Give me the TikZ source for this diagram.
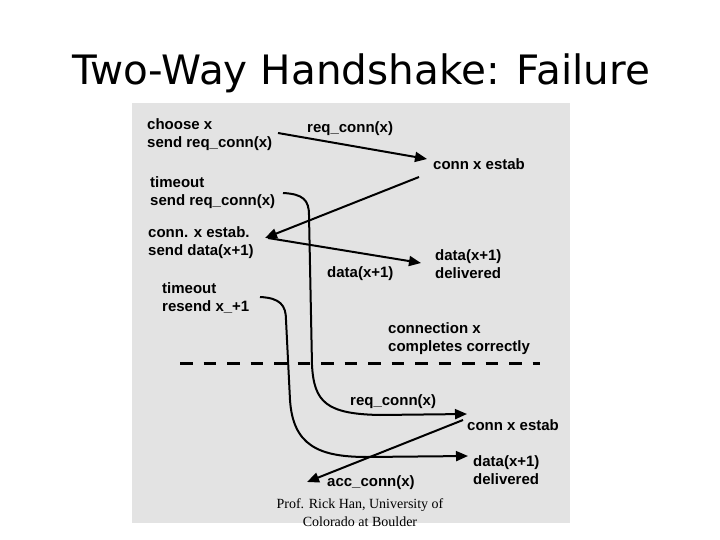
\documentclass[tikz,border=0pt]{standalone}
\usepackage{fontspec}
\setmainfont{Liberation Sans}
\newfontfamily\titlefont{DejaVu Sans}
\newfontfamily\creditfont{Liberation Serif}
\usetikzlibrary{arrows.meta}
\definecolor{ink}{HTML}{000000}
\definecolor{panel}{HTML}{E3E3E3}
\tikzset{
  lbl/.style={anchor=base west,inner sep=0pt,align=left,text=ink,font=\fontsize{15}{18}\selectfont\bfseries},
  msg/.style={draw=ink,line width=2pt,-{Triangle[length=12pt,width=10pt]}},
  cutline/.style={draw=ink,line width=3pt,dash pattern=on 12.5pt off 11pt}
}

\begin{document}
\begin{tikzpicture}[x=1pt,y=-1pt]
\useasboundingbox (0,0) rectangle (720,540);
\node[anchor=base,inner sep=0pt,font=\titlefont\fontsize{40.5}{48}\selectfont] (title) at (361,85) {Two-Way Handshake: Failure};
\fill[panel] (132,103) rectangle (570,523);
\node[anchor=base,inner sep=0pt,align=center,font=\creditfont\fontsize{14}{18}\selectfont] (credit) at (360,526) {Prof. Rick Han, University of\\Colorado at Boulder};

\node[lbl] (choose) at (147,148) {choose x\\send req\_conn(x)};
\node[lbl] (reqA) at (307,133) {req\_conn(x)};
\node[lbl] (estabA) at (433,170) {conn x estab};
\node[lbl] (timeoutA) at (150,206) {timeout\\send req\_conn(x)};
\node[lbl] (estabB) at (148,255) {conn. x estab.\\send data(x+1)};
\node[lbl] (dataA) at (327,277) {data(x+1)};
\node[lbl] (delivA) at (435,278) {data(x+1)\\delivered};
\node[lbl] (timeoutB) at (162,311) {timeout\\resend x\_+1};
\node[lbl] (done) at (388,351) {connection x\\completes correctly};
\node[lbl] (reqB) at (350,405) {req\_conn(x)};
\node[lbl] (estabC) at (467,430) {conn x estab};
\node[lbl] (delivB) at (473,484) {data(x+1)\\delivered};
\node[lbl] (acc) at (327,486) {acc\_conn(x)};

\coordinate (cutL) at (180,363); \coordinate (cutR) at (540,363);
\draw[cutline] (cutL) -- (cutR);

\coordinate (s1) at (278,133); \coordinate (e1) at (427,159);
\coordinate (s2) at (419,177); \coordinate (e2) at (265,238);
\coordinate (s3) at (268,238); \coordinate (e3) at (421,263);
\coordinate (s4) at (283,193); \coordinate (e4) at (467,414);
\coordinate (s5) at (260,297); \coordinate (e5) at (468,456);
\coordinate (s6) at (463,420); \coordinate (e6) at (307,482);
\draw[msg] (s1) -- (e1);
\draw[msg] (s2) -- (e2);
\draw[msg] (s3) -- (e3);
\draw[msg] (s4) .. controls (303,194) and (309,200) .. (309,215) -- (312,365) .. controls (314,402) and (326,414) .. (380,415) -- (e4);
\draw[msg] (s5) .. controls (280,298) and (286,305) .. (286,320) -- (290,400) .. controls (293,445) and (318,457) .. (367,457) -- (e5);
\draw[msg] (s6) -- (e6);
\end{tikzpicture}
\end{document}
